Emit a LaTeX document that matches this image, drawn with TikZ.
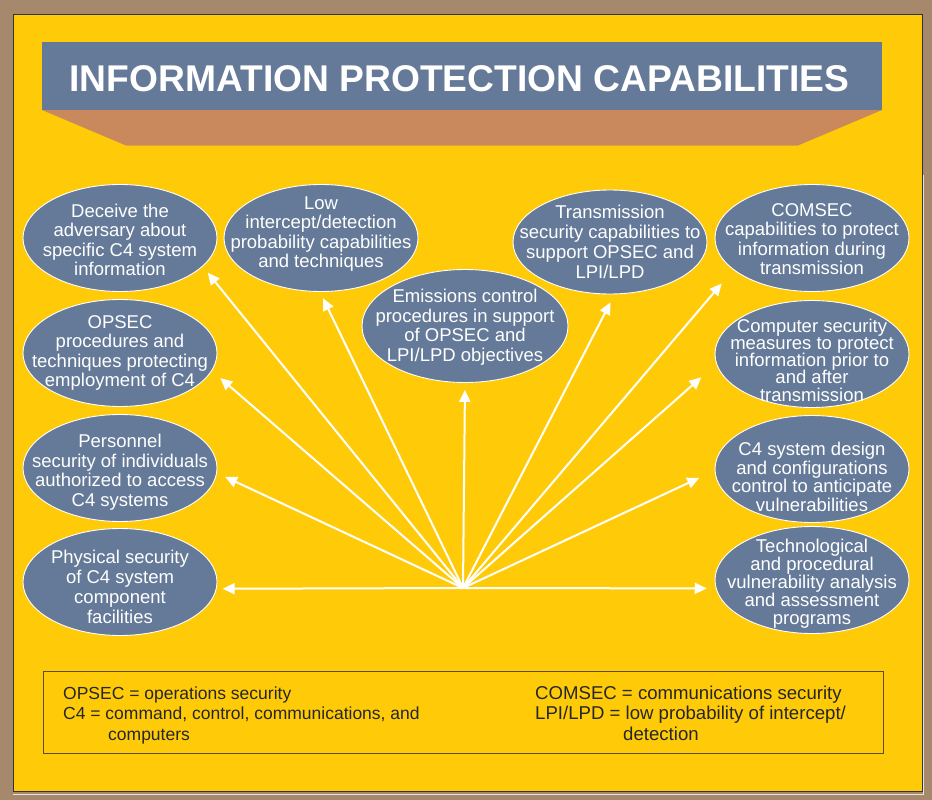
\documentclass[tikz,border=0pt]{standalone}
\usepackage{fontspec}
\setmainfont{Liberation Sans}
\usetikzlibrary{shapes.geometric,arrows.meta}
\definecolor{framebrown}{RGB}{166,137,108}
\definecolor{panelyellow}{RGB}{255,203,8}
\definecolor{slate}{RGB}{101,122,152}
\definecolor{tanband}{RGB}{201,137,93}
\definecolor{legendline}{RGB}{92,78,28}
\definecolor{legendtext}{RGB}{38,38,38}
\tikzset{
  bubble/.style={ellipse, fill=slate, draw=white, line width=0.9pt,
    minimum width=194pt, minimum height=107pt, inner sep=0pt},
  btext/.style={align=center, text=white, inner sep=0pt,
    font=\fontsize{18.5}{19.5}\selectfont},
  arr/.style={draw=white, line width=2pt, -{Triangle[length=12pt,width=11pt]}},
  legtext/.style={anchor=base west, inner sep=0pt, text=legendtext,
    font=\fontsize{17.5}{20}\selectfont},
}
\begin{document}
\begin{tikzpicture}[x=1pt, y=-1pt]
  % Frame and panel
  \useasboundingbox (0,0) rectangle (932,800);
  \fill[framebrown] (0,0) rectangle (932,800);
  \fill[panelyellow] (13,14) rectangle (922,791);
  \draw[black!80, line width=0.8pt] (13,14) rectangle (922,791);
  \draw[gray!20, line width=1.2pt] (923.5,175) -- (923.5,794.5) -- (13,794.5);
  % Title banner
  \fill[tanband] (42,110) -- (882,110) -- (798,145.5) -- (126,145.5) -- cycle;
  \fill[slate] (42,42) rectangle (882,110);
  \node[text=white, inner sep=0pt, font=\bfseries\fontsize{37.2}{40}\selectfont]
    (title) at (459.5,78.3) {INFORMATION PROTECTION CAPABILITIES};
  % Left column
  \node[bubble] (dec) at (120,238) {};
  \node[btext] (dec-txt) at (120,240) {Deceive the\\adversary about\\specific C4 system\\information};
  \node[bubble] (opsec) at (120,353) {};
  \node[btext] (opsec-txt) at (120,353) {OPSEC\\procedures and\\techniques protecting\\employment of C4};
  \node[bubble] (pers) at (120,468) {};
  \node[btext] (pers-txt) at (120,472) {Personnel\\security of individuals\\authorized to access\\C4 systems};
  \node[bubble] (phys) at (120,582) {};
  \node[btext, font=\fontsize{18.5}{20}\selectfont] (phys-txt) at (120,587) {Physical security\\of C4 system\\component\\facilities};
  % Top row
  \node[bubble] (low) at (321,238) {};
  \node[btext] (low-txt) at (321,234) {Low\\intercept/detection\\probability capabilities\\and techniques};
  \node[bubble, minimum width=206pt, minimum height=113pt] (emis) at (465,326) {};
  \node[btext] (emis-txt) at (465,327) {Emissions control\\procedures in support\\of OPSEC and\\LPI/LPD objectives};
  \node[bubble, minimum height=104pt] (trans) at (610,242) {};
  \node[btext, font=\fontsize{18.5}{20}\selectfont] (trans-txt) at (610,242) {Transmission\\security capabilities to\\support OPSEC and\\LPI/LPD};
  % Right column
  \node[bubble] (com) at (812,238) {};
  \node[btext] (com-txt) at (812,239) {COMSEC\\capabilities to protect\\information during\\transmission};
  \node[bubble] (comp) at (812,354) {};
  \node[btext, font=\fontsize{18.5}{17.3}\selectfont] (comp-txt) at (812,360) {Computer security\\measures to protect\\information prior to\\and after\\transmission};
  \node[bubble] (des) at (812,469) {};
  \node[btext, font=\fontsize{18.5}{18.7}\selectfont] (des-txt) at (812,477) {C4 system design\\and configurations\\control to anticipate\\vulnerabilities};
  \node[bubble] (tech) at (812,580) {};
  \node[btext, font=\fontsize{18.5}{18}\selectfont] (tech-txt) at (812,584) {Technological\\and procedural\\vulnerability analysis\\and assessment\\programs};
  % Arrows from the hub
  \coordinate (hub) at (463,588);
  \foreach \tgt/\ang/\gap in {dec/-19/8, low/-91/7, emis/-90/7, trans/-85/9,
      com/-158/18, opsec/-11/11, comp/-174/20, pers/-3/9, des/-179/17,
      phys/-4/6, tech/-175/9} {
    \draw[arr, shorten >=\gap pt] (hub) -- (\tgt.\ang);
  }
  % Legend
  \draw[legendline, line width=1pt] (43,671) rectangle (883,753);
  \node[legtext] (opsec-def) at (63,699.5) {OPSEC = operations security};
  \node[legtext] (c4-def) at (63,719.5) {C4 = command, control, communications, and};
  \node[legtext] (c4-def2) at (108,740) {computers};
  \node[legtext, font=\fontsize{18.6}{20}\selectfont] (comsec-def) at (535,699.5) {COMSEC = communications security};
  \node[legtext, font=\fontsize{18.6}{20}\selectfont] (lpi-def) at (535,719.5) {LPI/LPD = low probability of intercept/};
  \node[legtext, font=\fontsize{18.6}{20}\selectfont] (lpi-def2) at (623,740) {detection};
\end{tikzpicture}
\end{document}
